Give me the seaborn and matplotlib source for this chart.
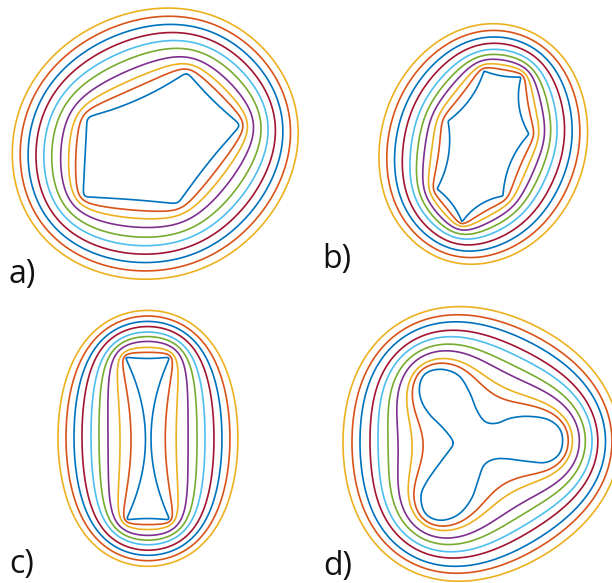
import numpy as np
import matplotlib
matplotlib.use("Agg")
import matplotlib.pyplot as plt
from matplotlib.path import Path
import seaborn as sns

# panel a) : rounded pentagon, vertices + inward sag of each edge (px)
a_verts = [(187, 72), (241, 125), (178, 204), (83, 197), (87, 117)]
a_sags = [2, 2, 1, 0, 5]
a_round = 4
a_ray_y = 140
a_cross_x = [77, 70, 62, 53, 45, 37, 29, 21, 13]   # where the outer rings cut y = a_ray_y

# panel b) : concave heptagon with cusps
b_verts = [(484, 71), (521, 77), (529, 134), (503, 196), (462, 222), (437, 189), (448, 121)]
b_sags = [2, 6, 6, 5, 3, 6, 5]
b_round = 1
b_ray_y = 140
b_cross_x = [440, 433, 426, 419, 412, 404, 396, 388, 380]

# panel c) : rectangle with hollow long sides
c_verts = [(125, 357), (170, 357), (170, 520), (126, 520)]
c_sags = [1.5, 19, 1.5, 20]
c_round = 2.5
c_ray_y = 437
c_cross_x = [131, 120, 108, 99, 91, 82, 74, 66, 58]

# panel d) : trefoil, points along the outline
d_points = [(453.3, 442.3), (443.3, 428.3), (430, 415), (421.7, 401.7), (419.3, 388.3),
            (423.3, 375.7), (433.3, 370), (446.7, 370), (460, 376.7), (470, 393.3),
            (476.7, 410), (485, 421.7), (496.7, 423.3), (510, 418.3), (526.7, 416.3),
            (546.7, 419), (559, 427.7), (562.7, 440.3), (559, 454.3), (546.7, 462.3),
            (530, 461.7), (510, 459), (495, 459), (484, 465), (478.3, 480),
            (471.7, 498.3), (460, 513.3), (445, 520), (431.7, 518.3), (423.3, 510),
            (421, 495), (426.7, 481.7), (438.3, 465), (448.3, 451.7)]
d_round = 2
d_ray_y = 442
d_cross_x = [423, 412, 398, 388, 378, 370, 360, 352, 343]

labels = ["a)", "b)", "c)", "d)"]
label_pos = [(9, 283), (322, 268), (9, 573), (323, 575)]

# matlab default line colours
matlab = ["#0072BD", "#D95319", "#EDB120", "#7E2F8E", "#77AC30", "#4DBEEE", "#A2142F"]


def bezier_outline(verts, sags, n=80):
    V = np.asarray(verts, float)
    c = V.mean(0)
    t = np.linspace(0, 1, n, endpoint=False)[:, None]
    out = []
    for i in range(len(V)):
        p0, p2 = V[i], V[(i + 1) % len(V)]
        mid = (p0 + p2) / 2
        d = p2 - p0
        nrm = np.array([-d[1], d[0]]) / np.hypot(*d)
        if np.dot(nrm, c - mid) < 0:
            nrm = -nrm
        p1 = mid + 2 * sags[i] * nrm
        out.append((1 - t) ** 2 * p0 + 2 * t * (1 - t) * p1 + t ** 2 * p2)
    return np.vstack(out)


def catmull_rom(points, n=30):
    P = np.asarray(points, float)
    m = len(P)
    t = np.linspace(0, 1, n, endpoint=False)[:, None]
    out = []
    for i in range(m):
        p0, p1, p2, p3 = P[i - 1], P[i], P[(i + 1) % m], P[(i + 2) % m]
        out.append(0.5 * (2 * p1 + (-p0 + p2) * t + (2 * p0 - 5 * p1 + 4 * p2 - p3) * t ** 2
                          + (-p0 + 3 * p1 - 3 * p2 + p3) * t ** 3))
    return np.vstack(out)


def resample(pts, h=0.7):
    pts = np.vstack([pts, pts[:1]])
    s = np.concatenate([[0], np.cumsum(np.hypot(*np.diff(pts, axis=0).T))])
    n = int(s[-1] / h)
    t = np.linspace(0, s[-1], n, endpoint=False)
    return np.column_stack([np.interp(t, s, pts[:, 0]), np.interp(t, s, pts[:, 1])]), s[-1] / n


def smooth(pts, sigma, h):
    if sigma <= 0:
        return pts
    k = int(4 * sigma / h)
    w = np.exp(-0.5 * (np.arange(-k, k + 1) * h / sigma) ** 2)
    w /= w.sum()
    out = np.empty_like(pts)
    for c in range(2):
        ext = np.concatenate([pts[-k:, c], pts[:, c], pts[:k, c]])
        out[:, c] = np.convolve(ext, w, mode="valid")
    return out


def green_function(bnd, h):
    # charges on the outline so that it is an equipotential (log kernel)
    N = len(bnd)
    D = np.hypot(bnd[:, None, 0] - bnd[None, :, 0], bnd[:, None, 1] - bnd[None, :, 1])
    np.fill_diagonal(D, 1.0)
    A = np.log(D)
    np.fill_diagonal(A, np.log(h / 2) - 1)
    M = np.zeros((N + 1, N + 1))
    M[:N, :N] = A
    M[:N, N] = -1
    M[N, :N] = 1
    rhs = np.zeros(N + 1)
    rhs[N] = 1
    sol = np.linalg.solve(M, rhs)
    q, C = sol[:N], sol[N]

    def g(X):
        res = np.empty(len(X))
        for i in range(0, len(X), 4000):
            x = X[i:i + 4000]
            d2 = (x[:, None, 0] - bnd[None, :, 0]) ** 2 + (x[:, None, 1] - bnd[None, :, 1]) ** 2
            res[i:i + 4000] = 0.5 * np.log(np.maximum(d2, 1e-9)) @ q - C
        return res
    return g


panels = [
    (bezier_outline(a_verts, a_sags), a_round, a_ray_y, a_cross_x),
    (bezier_outline(b_verts, b_sags), b_round, b_ray_y, b_cross_x),
    (bezier_outline(c_verts, c_sags), c_round, c_ray_y, c_cross_x),
    (catmull_rom(d_points), d_round, d_ray_y, d_cross_x),
]

sns.set_theme(style="white")
plt.rcParams["font.family"] = ["Open Sans", "DejaVu Sans"]
palette = sns.color_palette(matlab)

fig = plt.figure(figsize=(6.12, 5.83), dpi=100)
ax = fig.add_axes([0, 0, 1, 1])

for outline, rnd, ray_y, cross in panels:
    bnd, h = resample(outline)
    bnd = smooth(bnd, rnd, h)
    g = green_function(bnd, h)
    lo = bnd.min(0) - 105
    hi = bnd.max(0) + 105
    xs = np.arange(lo[0], hi[0], 1.0)
    ys = np.arange(lo[1], hi[1], 1.0)
    XX, YY = np.meshgrid(xs, ys)
    pts = np.column_stack([XX.ravel(), YY.ravel()])
    G = g(pts)
    G[Path(bnd).contains_points(pts)] = 0.0
    G = G.reshape(XX.shape)
    lev = np.sort(g(np.column_stack([cross, np.full(len(cross), ray_y)])))
    cols = [palette[(k + 1) % 7] for k in range(len(lev))]
    ax.contour(xs, ys, G, levels=lev, colors=cols, linewidths=1.2)
    closed = np.vstack([bnd, bnd[:1]])
    ax.plot(closed[:, 0], closed[:, 1], color=palette[0], lw=1.2)

for lab, (x, y) in zip(labels, label_pos):
    ax.text(x, y, lab, fontsize=23, color="#111111", va="baseline", ha="left")

ax.set_xlim(0, 612)
ax.set_ylim(583, 0)
ax.axis("off")
fig.savefig("out.png", dpi=100)
